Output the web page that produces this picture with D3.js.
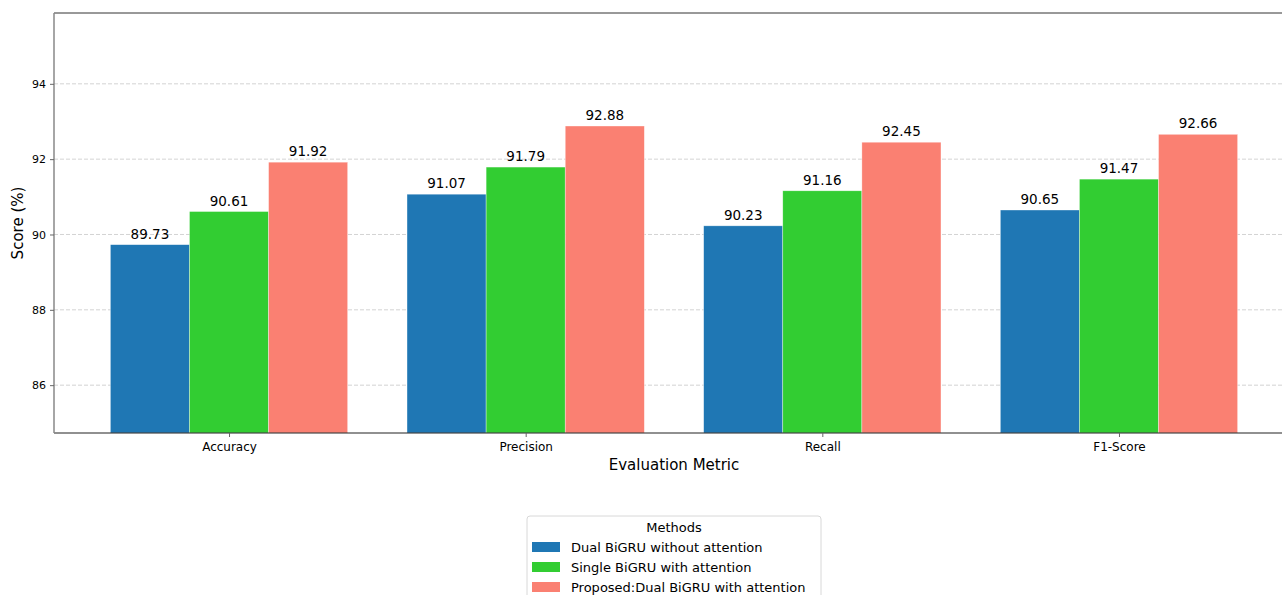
<!DOCTYPE html>
<html>
<head>
<meta charset="utf-8">
<script src="https://cdn.jsdelivr.net/npm/d3@7"></script>
<style>
  body { margin: 0; background: #fff; }
  text { font-family: "DejaVu Sans", sans-serif; fill: #000; }
</style>
</head>
<body>
<svg id="chart" width="1282" height="595"></svg>
<script>
// data
var metrics = ["Accuracy", "Precision", "Recall", "F1-Score"]
var methods = ["Dual BiGRU without attention", "Single BiGRU with attention", "Proposed:Dual BiGRU with attention"]
var dualNoAtt   = [89.73, 91.07, 90.23, 90.65]
var singleAtt   = [90.61, 91.79, 91.16, 91.47]
var proposedAtt = [91.92, 92.88, 92.45, 92.66]
var yTicks = [86, 88, 90, 92, 94]
var colors = ["#1f77b4", "#32cd32", "#fa8072"]

var series = [dualNoAtt, singleAtt, proposedAtt]

var svg = d3.select("#chart"),
	margin = {top: 13, left: 54, bottom: 162, right: -12},
	width = +svg.attr("width"),
	height = +svg.attr("height");

var yMin = d3.min(dualNoAtt) - 5,
	yMax = d3.max(proposedAtt) + 3;

// matplotlib-like x: categories at 0..3, bars of width 0.8/3, 5% margins
var barW = 0.8 / 3
var x = d3.scaleLinear()
	.domain([-0.59, 3.59])
	.range([margin.left, width - margin.right])

var y = d3.scaleLinear()
	.domain([yMin, yMax])
	.range([height - margin.bottom, margin.top])

var bottom = height - margin.bottom

// grid
svg.append("g").selectAll("line")
	.data(yTicks)
	.enter().append("line")
	.attr("x1", margin.left).attr("x2", width)
	.attr("y1", d => y(d)).attr("y2", d => y(d))
	.attr("stroke", "#c8c8c8")
	.attr("stroke-width", 0.8)
	.attr("stroke-dasharray", "4,2")

// bars
var layer = svg.selectAll("g.layer")
	.data(series)
	.enter().append("g")
	.attr("class", "layer")
	.attr("fill", (d, i) => colors[i])

layer.selectAll("rect")
	.data((d, i) => d.map((v, j) => ({v: v, j: j, i: i})))
	.enter().append("rect")
	.attr("x", d => x(d.j + (d.i - 1) * barW - barW / 2))
	.attr("width", x(barW) - x(0))
	.attr("y", d => y(d.v))
	.attr("height", d => bottom - y(d.v))
	.attr("stroke", "rgba(255,255,255,0.6)")
	.attr("stroke-width", 0.6)

layer.selectAll("text")
	.data((d, i) => d.map((v, j) => ({v: v, j: j, i: i})))
	.enter().append("text")
	.attr("x", d => x(d.j + (d.i - 1) * barW))
	.attr("y", d => y(d.v) - 6)
	.attr("text-anchor", "middle")
	.attr("font-size", 13.5)
	.text(d => d.v.toFixed(2))

// spines
svg.append("line")
	.attr("x1", margin.left).attr("x2", width)
	.attr("y1", margin.top).attr("y2", margin.top)
	.attr("stroke", "#333").attr("stroke-width", 1)
svg.append("line")
	.attr("x1", margin.left).attr("x2", width)
	.attr("y1", bottom).attr("y2", bottom)
	.attr("stroke", "#222").attr("stroke-width", 1.2)
svg.append("line")
	.attr("x1", margin.left).attr("x2", margin.left)
	.attr("y1", margin.top).attr("y2", bottom)
	.attr("stroke", "#888").attr("stroke-width", 1.5)

// y axis
var yAxis = svg.append("g")
	.attr("transform", `translate(${margin.left},0)`)
	.call(d3.axisLeft(y).tickValues(yTicks).tickSize(4).tickPadding(4))
yAxis.select(".domain").remove()
yAxis.selectAll(".tick line").attr("stroke", "#666")
yAxis.selectAll("text").attr("font-size", 11).attr("font-family", "DejaVu Sans")

// x axis
var xAxis = svg.append("g")
	.attr("transform", `translate(0,${bottom})`)
	.call(d3.axisBottom(x).tickValues(d3.range(metrics.length)).tickFormat(i => metrics[i]).tickSize(4).tickPadding(5))
xAxis.select(".domain").remove()
xAxis.selectAll(".tick line").attr("stroke", "#666")
xAxis.selectAll("text").attr("font-size", 12).attr("font-family", "DejaVu Sans")

// axis labels
svg.append("text")
	.attr("x", (x(-0.59) + x(3.59)) / 2)
	.attr("y", 470)
	.attr("text-anchor", "middle")
	.attr("font-size", 15)
	.text("Evaluation Metric")

svg.append("text")
	.attr("transform", `translate(23,${(margin.top + bottom) / 2}) rotate(-90)`)
	.attr("text-anchor", "middle")
	.attr("font-size", 15)
	.text("Score (%)")

// legend
var lg = svg.append("g").attr("transform", "translate(527,516)")
lg.append("rect")
	.attr("width", 294).attr("height", 100)
	.attr("rx", 3)
	.attr("fill", "#fff")
	.attr("stroke", "#d8d8d8")
lg.append("text")
	.attr("x", 147).attr("y", 16)
	.attr("text-anchor", "middle")
	.attr("font-size", 13)
	.text("Methods")
var item = lg.selectAll("g.item")
	.data(methods)
	.enter().append("g")
	.attr("class", "item")
	.attr("transform", (d, i) => `translate(0,${26 + i * 20})`)
item.append("rect")
	.attr("x", 5).attr("width", 28).attr("height", 10)
	.attr("fill", (d, i) => colors[i])
item.append("text")
	.attr("x", 44).attr("y", 9.5)
	.attr("font-size", 13)
	.text(d => d)
</script>
</body>
</html>
